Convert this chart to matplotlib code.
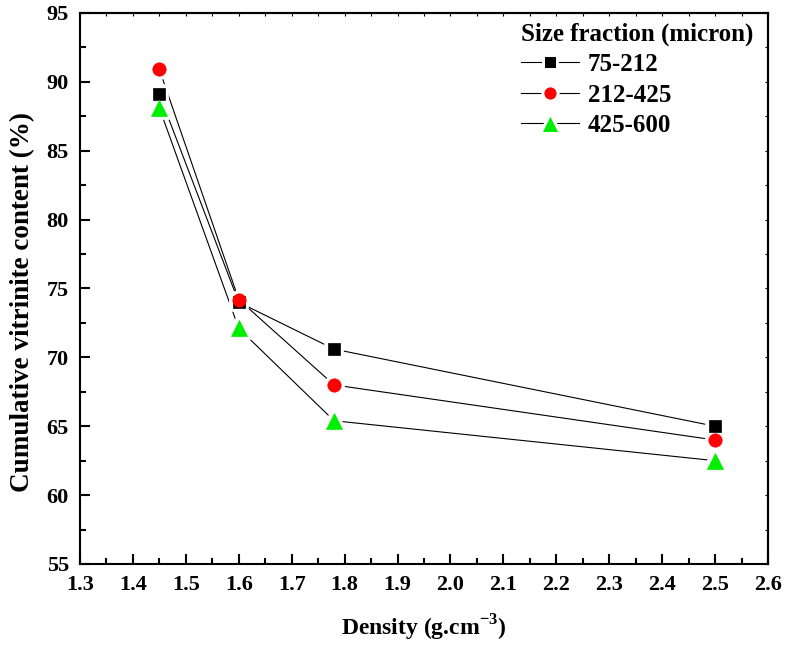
import matplotlib
matplotlib.use("Agg")
import matplotlib.pyplot as plt
from matplotlib.ticker import MultipleLocator, FormatStrFormatter
from matplotlib.lines import Line2D

plt.rcParams['font.family'] = ['Liberation Serif', 'DejaVu Serif']
plt.rcParams['font.weight'] = 'bold'
plt.rcParams['mathtext.fontset'] = 'custom'
plt.rcParams['mathtext.rm'] = 'Liberation Serif:bold'
plt.rcParams['mathtext.bf'] = 'Liberation Serif:bold'

density = [1.45, 1.6, 1.78, 2.5]
series_names = ["75-212", "212-425", "425-600"]
vitrinite_75_212 = [89.1, 74.0, 70.6, 65.0]
vitrinite_212_425 = [90.9, 74.2, 68.0, 64.0]
vitrinite_425_600 = [88.1, 72.1, 65.4, 62.5]

fig = plt.figure(figsize=(7.85, 6.47), dpi=100)
ax = fig.add_axes([80/785, 1 - 564/647, 688/785, 551/647])

# marker, colour, size in plot, size in legend
styles = [("s", "black", 8.2, 10.2), ("o", "red", 9.6, 11), ("^", "#00ee00", 11.5, 14)]
handles = []
for name, vals, (mk, col, ms, lms) in zip(series_names,
                                          [vitrinite_75_212, vitrinite_212_425, vitrinite_425_600],
                                          styles):
    ax.plot(density, vals, color="black", lw=0.8, zorder=2)
    # white halo so the connecting lines stop short of each symbol
    ax.plot(density, vals, linestyle="none", marker=mk, markersize=ms,
            markerfacecolor="white", markeredgecolor="white", markeredgewidth=5.5, zorder=3)
    ax.plot(density, vals, linestyle="none", marker=mk, markersize=ms,
            markerfacecolor=col, markeredgecolor=col, markeredgewidth=0.5, zorder=4)
    handles.append(Line2D([], [], color="black", lw=0.8, marker=mk, markersize=lms,
                          markerfacecolor=col, markeredgecolor="white",
                          markeredgewidth=2.2, label=name))

ax.set_xlim(1.3, 2.6)
ax.set_ylim(55, 95)
ax.xaxis.set_major_locator(MultipleLocator(0.1))
ax.xaxis.set_minor_locator(MultipleLocator(0.05))
ax.yaxis.set_major_locator(MultipleLocator(5))
ax.yaxis.set_minor_locator(MultipleLocator(2.5))
ax.xaxis.set_major_formatter(FormatStrFormatter("%.1f"))
ax.tick_params(which="both", direction="in", labelsize=16, width=1.5)
ax.tick_params(which="major", length=7.5)
ax.tick_params(which="minor", length=4.5)
ax.tick_params(axis="x", which="major", pad=8)
ax.tick_params(axis="y", which="major", pad=8)
for lbl in ax.get_xticklabels() + ax.get_yticklabels():
    lbl.set_fontweight("bold")
for sp in ax.spines.values():
    sp.set_linewidth(1.5)

# short ticks on the top and right frame
top = ax.secondary_xaxis("top")
top.xaxis.set_major_locator(MultipleLocator(0.1))
top.xaxis.set_minor_locator(MultipleLocator(0.05))
top.tick_params(which="both", direction="in", length=2.5, width=0.8, labeltop=False)
right = ax.secondary_yaxis("right")
right.yaxis.set_major_locator(MultipleLocator(5))
right.yaxis.set_minor_locator(MultipleLocator(2.5))
right.tick_params(which="both", direction="in", length=2.5, width=0.8, labelright=False)
for sec in (top, right):
    for sp in sec.spines.values():
        sp.set_linewidth(1.5)

ax.set_xlabel(r"Density (g.cm$^{\mathrm{-3}}$)", fontsize=17, fontweight="bold", labelpad=13)
ax.set_ylabel("Cumulative vitrinite content (%)", fontsize=19.5, fontweight="bold")
ax.yaxis.set_label_coords(-0.0654, 0.4755)

leg = ax.legend(handles=handles, title="Size fraction (micron)", loc="upper right",
                bbox_to_anchor=(0.992, 0.999),
                frameon=False, prop={"size": 18, "weight": "bold"}, handlelength=2.3,
                borderaxespad=0.15, borderpad=0.2, labelspacing=0.3, handletextpad=0.35)
leg.get_title().set_fontsize(18)
leg.get_title().set_fontweight("bold")
leg._legend_box.align = "left"

fig.savefig("out.png", dpi=100)
